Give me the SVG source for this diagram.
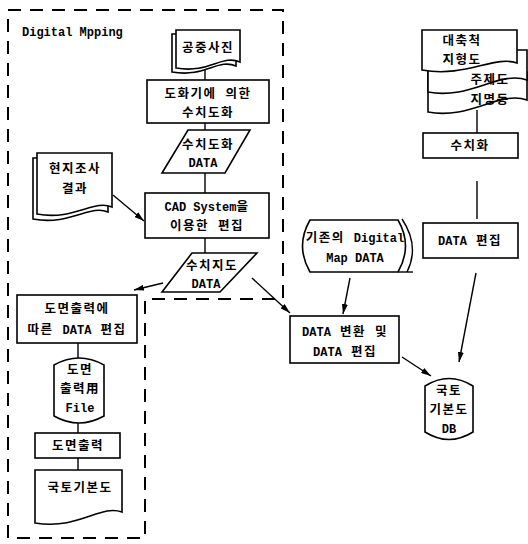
<svg xmlns="http://www.w3.org/2000/svg" width="528" height="544" viewBox="0 0 528 544">
<defs>
<style>
.s{fill:#fff;stroke:#000;stroke-width:1.6}
.n{fill:none;stroke:#000;stroke-width:1.4}
.d{fill:none;stroke:#000;stroke-width:2;stroke-dasharray:13 9}
text{font-family:"DejaVu Sans Mono","Noto Sans CJK KR",monospace;font-weight:bold;font-size:12.5px;text-anchor:middle;fill:#000;letter-spacing:1.5px}
.e{font-family:"Liberation Mono","Noto Sans CJK KR",monospace;font-size:12px;letter-spacing:0}
.l{text-anchor:start;font-family:"Liberation Mono",monospace;font-size:12px;letter-spacing:0}
</style>
<marker id="ah" viewBox="0 0 10 6" markerWidth="10" markerHeight="6" refX="10" refY="3" orient="auto" markerUnits="userSpaceOnUse">
<path d="M0,0 L10,3 L0,6 Z" fill="#000"/>
</marker>
</defs>
<rect width="528" height="544" fill="#fff"/>
<path class="d" d="M8,10 H283 V299 H145 V538 H8 Z"/>
<text class="l" x="22" y="36">Digital Mpping</text>

<g id="connectors">
<line class="n" x1="205" y1="68" x2="205" y2="80"/>
<line class="n" x1="205" y1="123" x2="205" y2="130"/>
<line class="n" x1="205" y1="173" x2="205" y2="193"/>
<line class="n" x1="205" y1="238" x2="205" y2="253"/>
<line class="n" x1="113" y1="195" x2="144" y2="221" marker-end="url(#ah)"/>
<line class="n" x1="163" y1="283" x2="134" y2="290" marker-end="url(#ah)"/>
<line class="n" x1="252" y1="278" x2="290" y2="313" marker-end="url(#ah)"/>
<line class="n" x1="78" y1="343" x2="78" y2="358"/>
<line class="n" x1="78" y1="423" x2="78" y2="433"/>
<line class="n" x1="78" y1="458" x2="78" y2="470"/>
<line class="n" x1="350" y1="278" x2="343" y2="314" marker-end="url(#ah)"/>
<line class="n" x1="477" y1="110" x2="477" y2="133"/>
<line class="n" x1="477" y1="181" x2="477" y2="219"/>
<line class="n" x1="476" y1="273" x2="459" y2="362" marker-end="url(#ah)"/>
<line class="n" x1="402" y1="357" x2="431" y2="376" marker-end="url(#ah)"/>
</g>

<g id="gongjung">
<path class="s" d="M172,34 H236 V66 C218,58 205,78 172,72 Z"/>
<path class="s" d="M176,30 H240 V62 C222,54 209,74 176,68 Z"/>
<text x="208" y="52">공중사진</text>
</g>

<g id="dohwa">
<rect class="s" x="147" y="80" width="122" height="43"/>
<text x="208" y="98">도화기에 의한</text>
<text x="208" y="117">수치도화</text>
</g>

<g id="suchidohwa-data">
<path class="s" d="M188,130 H250 L225,173 H162 Z"/>
<text x="208" y="149">수치도화</text>
<text class="e" x="203" y="167">DATA</text>
</g>

<g id="hyunji">
<path class="s" d="M33,158 H108 V212 C90,204 70,226 33,219 Z"/>
<path class="s" d="M37,153 H112 V207 C94,199 74,221 37,214 Z"/>
<text x="75" y="173">현지조사</text>
<text x="75" y="193">결과</text>
</g>

<g id="cad">
<rect class="s" x="145" y="193" width="124" height="45"/>
<text x="207" y="211"><tspan class="e">CAD System</tspan>을</text>
<text x="207" y="230">이용한 편집</text>
</g>

<g id="suchijido-data">
<path class="s" d="M192,253 H257 L220,292 H162 Z"/>
<text x="212" y="270">수치지도</text>
<text class="e" x="206" y="288">DATA</text>
</g>

<g id="domyeon-edit">
<rect class="s" x="17" y="295" width="120" height="48"/>
<text x="77" y="313">도면출력에</text>
<text x="77" y="334">따른 <tspan class="e">DATA</tspan> 편집</text>
</g>

<g id="file">
<path class="s" d="M54,365 Q79,351 104,365 V416 Q79,430 54,416 Z"/>
<text x="80" y="374">도면</text>
<text x="80" y="393">출력用</text>
<text class="e" x="80" y="412">File</text>
</g>

<g id="domyeon-out">
<rect class="s" x="35" y="433" width="85" height="25"/>
<text x="78" y="450">도면출력</text>
</g>

<g id="gukto-map">
<path class="s" d="M35,470 H122 V512 C100,504 80,530 35,523 Z"/>
<text x="80" y="492">국토기본도</text>
</g>

<g id="existing">
<path class="n" d="M402,219 Q420,246 407,272"/>
<path class="n" d="M398,272 H413"/>
<path class="s" d="M310,220 H398 Q413,246 398,272 H310 Q295,246 310,220 Z"/>
<text x="355" y="242">기존의 <tspan class="e">Digital</tspan></text>
<text class="e" x="355" y="262">Map DATA</text>
</g>

<g id="convert">
<rect class="s" x="290" y="316" width="109" height="47"/>
<text x="345" y="336"><tspan class="e">DATA</tspan> 변환 및</text>
<text x="345" y="356"><tspan class="e">DATA</tspan> 편집</text>
</g>

<g id="maps">
<path class="s" d="M428,72 H527 V100 C500,90 470,120 428,112 Z"/>
<path class="s" d="M428,50 H527 V80 C500,70 470,100 428,92 Z"/>
<path class="s" d="M422,30 H517 V63 C495,55 465,78 422,70 Z"/>
<text x="462" y="45">대축척</text>
<text x="462" y="64">지형도</text>
<text x="490" y="84">주제도</text>
<text x="490" y="104">지명동</text>
</g>

<g id="suchihwa">
<rect class="s" x="423" y="133" width="95" height="25"/>
<text x="470" y="150">수치화</text>
</g>

<g id="data-edit">
<rect class="s" x="423" y="223" width="95" height="35"/>
<text x="470" y="245"><tspan class="e">DATA</tspan> 편집</text>
</g>

<g id="db">
<path class="s" d="M425,386 Q449,371 473,386 V432 Q449,447 425,432 Z"/>
<text x="449" y="395">국토</text>
<text x="449" y="414">기본도</text>
<text class="e" x="449" y="433">DB</text>
</g>
</svg>
